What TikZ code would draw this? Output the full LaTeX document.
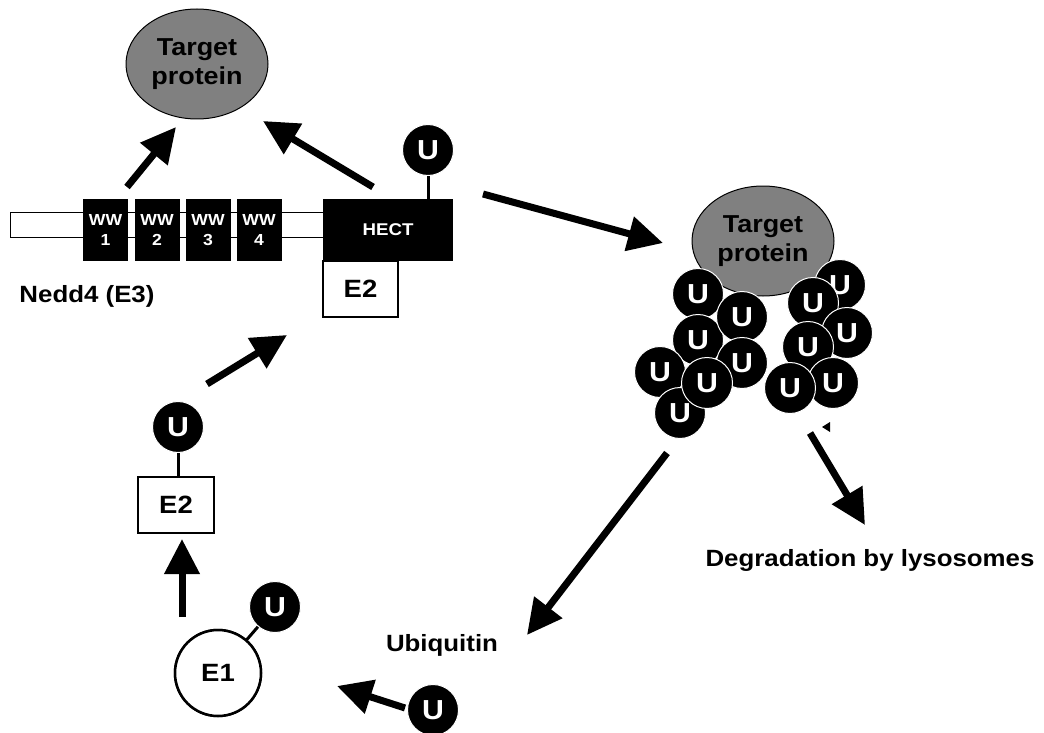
\documentclass[tikz,border=0pt]{standalone}
\usepackage{fontspec}
\setmainfont{Liberation Sans}[FakeStretch=1.1]
\usetikzlibrary{arrows.meta,shapes.geometric}
\newcommand{\fs}[2]{\fontsize{#1}{#2}\selectfont}
\begin{document}
\begin{tikzpicture}[x=1pt,y=-1pt,font=\bfseries,
  bigarrow/.style={line width=7pt,-{Triangle[length=35pt,width=34pt]}},
  ubq/.style={circle,fill=black,draw=white,line width=1pt,minimum size=51pt,inner sep=0pt,text=white,font=\bfseries\fs{27.5}{27.5}},
  target/.style={ellipse,fill=black!50,draw=black,line width=1pt,minimum width=142pt,minimum height=110pt,inner sep=0pt,align=center,font=\bfseries\fs{24.5}{29}},
  wwbox/.style={rectangle,fill=black,minimum width=45pt,minimum height=62pt,inner sep=0pt,text=white,align=center,font=\bfseries\fs{16}{20}},
  ebox/.style={rectangle,fill=white,draw=black,line width=2.5pt,inner sep=0pt,font=\bfseries\fs{25}{25}},
  lbl/.style={font=\bfseries\fs{23.5}{25}},
  stem/.style={line width=3pt}]
\useasboundingbox (0,0) rectangle (1044,733);
% ---- Nedd4 domain bar
\node[draw=black,line width=1pt,minimum width=315pt,minimum height=25pt,inner sep=0pt,anchor=west] (bar) at (10,224.5) {};
\node[wwbox] (ww1) at (105.5,230) {WW\\1};
\node[wwbox] (ww2) at (157,230) {WW\\2};
\node[wwbox] (ww3) at (208,230) {WW\\3};
\node[wwbox] (ww4) at (259,230) {WW\\4};
\node[rectangle,fill=black,minimum width=130pt,minimum height=62pt,inner sep=0pt,text=white,font=\bfseries\fs{17}{17}] (hect) at (388,230) {HECT};
\node[ebox,minimum width=75pt,minimum height=56pt] (e2top) at (360.5,289) {E2};
\node[lbl] (nedd) at (87,296) {Nedd4 (E3)};
% ---- ubiquitin on HECT
\node[ubq] (uh) at (428,150) {U};
\draw[stem] (uh.south) -- (uh.south |- hect.north);
% ---- left target protein
\node[target] (tp1) at (197,64) {Target\\protein};
\coordinate (a1s) at (127,187); \coordinate (a1e) at (176,127);
\coordinate (a2s) at (373,187); \coordinate (a2e) at (263,121);
\draw[bigarrow] (a1s) -- (a1e);
\draw[bigarrow] (a2s) -- (a2e);
% ---- arrow to right target protein
\coordinate (a3s) at (483,194); \coordinate (a3e) at (663,243);
\draw[bigarrow] (a3s) -- (a3e);
\node[target] (tp2) at (763,241) {Target\\protein};
% ---- polyubiquitin chains
\node[ubq] (p1) at (698,294) {U};
\node[ubq] (p3) at (698,340) {U};
\node[ubq] (p2) at (742,317) {U};
\node[ubq] (p4) at (660,372) {U};
\node[ubq] (p5) at (742,363) {U};
\node[ubq] (p7) at (680,413) {U};
\node[ubq] (p6) at (707,383) {U};
\node[ubq] (q1) at (840,285) {U};
\node[ubq] (q2) at (813,303) {U};
\node[ubq] (q3) at (847,333) {U};
\node[ubq] (q4) at (808,347) {U};
\node[ubq] (q6) at (833,383) {U};
\node[ubq] (q5) at (790,388) {U};
% small stray arrowhead
\fill (822,427) -- (830,422) -- (830,432) -- cycle;
% ---- degradation
\coordinate (a4s) at (810,433); \coordinate (a4e) at (865,525);
\draw[bigarrow] (a4s) -- (a4e);
\node[lbl] (deg) at (870,560) {Degradation by lysosomes};
% ---- recycling ubiquitin
\coordinate (a5s) at (667,453); \coordinate (a5e) at (527,635);
\draw[bigarrow] (a5s) -- (a5e);
\node[lbl] (ubl) at (442,645) {Ubiquitin};
\node[ubq] (ufree) at (433,710) {U};
\coordinate (a6s) at (405,708); \coordinate (a6e) at (337,686);
\draw[bigarrow] (a6s) -- (a6e);
% ---- E1
\node[circle,draw=black,line width=2.5pt,fill=white,minimum size=86pt,inner sep=0pt,font=\bfseries\fs{25}{25}] (e1) at (218,673) {E1};
\node[ubq] (ue1) at (275,607) {U};
\draw[stem] (e1) -- (ue1);
\node[circle,draw=black,line width=2.5pt,fill=white,minimum size=86pt,inner sep=0pt,font=\bfseries\fs{25}{25}] at (218,673) {E1};
\node[ubq] at (275,607) {U};
% ---- E2 lower
\coordinate (a7s) at (182,617); \coordinate (a7e) at (182,539);
\draw[bigarrow] (a7s) -- (a7e);
\node[ebox,minimum width=76pt,minimum height=56pt] (e2low) at (176,505) {E2};
\node[ubq] (ue2) at (178,427) {U};
\draw[stem] (ue2.south) -- (ue2.south |- e2low.north);
\coordinate (a8s) at (207,384); \coordinate (a8e) at (287,335);
\draw[bigarrow] (a8s) -- (a8e);
\end{tikzpicture}
\end{document}
